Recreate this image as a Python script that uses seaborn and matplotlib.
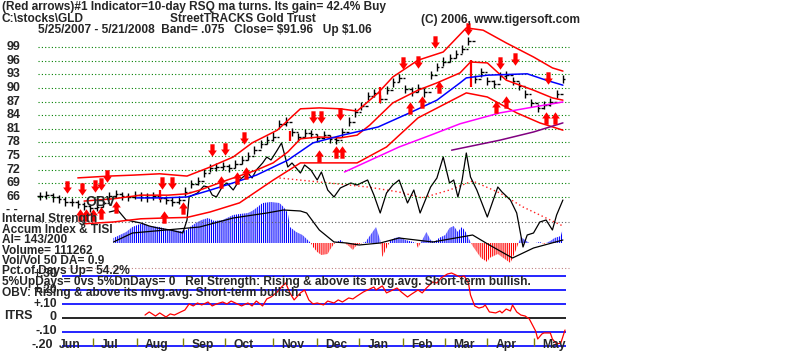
import numpy as np
import matplotlib
matplotlib.use("Agg")
import matplotlib.pyplot as plt
import seaborn as sns

sns.set_style("white")
plt.rcParams["font.family"] = ["Liberation Sans", "DejaVu Sans"]
plt.rcParams["hatch.linewidth"] = 0.8

# ---- data (x = trading day since 5/25/2007) ----
price_days = np.arange(0, 252, 3)
closes = [66.2, 66.4, 65.9, 65.5, 65.0, 64.9, 64.4, 64.0, 63.6, 63.9,
          64.6, 66.2, 66.7, 66.3, 66.0, 66.5, 66.1, 65.9, 66.3, 65.8,
          65.3, 65.0, 65.4, 67.2, 68.8, 69.6, 71.3, 72.3, 72.6, 72.8,
          72.4, 73.2, 74.1, 75.0, 76.3, 77.6, 78.5, 79.3, 82.0, 82.6,
          80.3, 79.2, 80.0, 79.8, 79.0, 79.6, 78.8, 78.6, 80.2, 82.6,
          84.6, 86.0, 88.3, 88.8, 87.6, 89.6, 91.2, 92.1, 89.7, 89.2,
          89.9, 89.0, 92.8, 94.6, 95.8, 96.6, 97.5, 98.5, 100.3, 92.0,
          93.4, 91.6, 90.8, 92.6, 92.9, 91.6, 90.4, 88.6, 86.6, 85.6,
          86.3, 86.9, 88.7, 91.9]

red_bar_days = [57, 119, 162, 205]
red_bar_low = [65.4, 78.3, 86.7, 90.2]
red_bar_high = [67.6, 80.5, 90.2, 96.1]

upper_days = [18, 33, 44, 57, 70, 80, 92, 101, 113, 124, 133, 143, 151, 161,
              168, 180, 192, 203, 211, 222, 235, 244, 249]
upper_band = [70.2, 70.6, 70.8, 71.1, 70.6, 72.4, 74.8, 77.9, 80.7, 85.4, 85.6,
              85.4, 84.9, 88.9, 92.4, 96.1, 97.9, 103.2, 102.7, 99.9, 96.8, 94.4,
              93.7]
ma21_days = [21, 35, 48, 61, 70, 76, 89, 103, 111, 118, 124, 133, 143, 151, 157,
             168, 180, 189, 200, 205, 213, 222, 235, 244, 249]
ma21 = [65.1, 65.6, 66.4, 66.4, 66.7, 67.5, 69.7, 71.9, 73.5, 75.9, 78.8, 79.2,
        79.0, 79.6, 81.8, 86.7, 89.5, 91.1, 93.3, 95.7, 95.5, 91.7, 89.5, 87.8,
        87.3]
lower_days = [21, 35, 48, 61, 70, 81, 95, 111, 124, 151, 165, 180, 203, 213, 227,
              238, 249]
lower_band = [60.1, 60.5, 61.2, 61.4, 61.5, 62.7, 64.7, 69.7, 73.5, 73.5, 77.0,
              83.4, 88.9, 88.0, 84.5, 82.3, 80.7]
ma50_days = [46, 59, 70, 81, 92, 103, 118, 130, 144, 161, 176, 189, 200, 203,
             213, 232, 241, 249]
ma50 = [65.8, 65.8, 66.0, 67.5, 69.1, 70.8, 74.1, 77.9, 79.6, 81.4, 84.5, 87.3,
        91.1, 92.2, 92.8, 93.1, 91.7, 90.6]
ma100_days = [145, 171, 186, 200, 219, 235, 249]
ma100 = [71.5, 77.0, 79.6, 82.1, 84.5, 85.8, 86.9]
ma200_days = [196, 219, 235, 249]
ma200 = [76.3, 78.5, 80.3, 82.3]

sell_days = [13, 20, 26, 29, 32, 58, 63, 82, 88, 97, 130, 134, 143, 173, 180,
             188, 204, 219, 226, 242]
sell_price = [68.2, 67.8, 68.4, 68.9, 70.6, 69.1, 69.1, 76.3, 76.6, 79.0, 83.6,
              83.6, 84.3, 95.5, 95.7, 100.1, 103.0, 95.5, 96.4, 92.2]
buy_days = [19, 22, 25, 29, 36, 59, 68, 86, 94, 98, 133, 141, 144, 176, 182, 190,
            217, 222, 241, 245]
buy_price = [62.0, 62.0, 62.0, 62.5, 63.8, 61.6, 63.6, 69.3, 70.2, 71.3, 75.0,
             75.9, 75.9, 85.6, 86.9, 90.2, 85.8, 86.9, 83.4, 83.4]

# on-balance volume and its average (scaled units)
obv_days = [33, 37, 41, 48, 52, 56, 62, 68, 70, 71, 75, 78, 80, 82, 84, 87, 89,
            92, 95, 99, 101, 103, 106, 108, 110, 113, 115, 118, 120, 124, 126,
            129, 132, 134, 137, 140, 143, 148, 151, 156, 159, 162, 165, 168, 171,
            175, 178, 181, 186, 189, 192, 195, 197, 199, 201, 203, 205, 208, 213,
            218, 220, 224, 227, 230, 232, 235, 238, 241, 244, 246, 249]
obv = [31, 33, 23, 20, 17, 15, 13, 10, 23, 46, 50, 57, 56, 48, 46, 57, 60, 53,
       63, 70, 65, 73, 80, 86, 83, 93, 100, 76, 80, 70, 78, 73, 63, 71, 53, 46,
       55, 60, 58, 63, 48, 30, 50, 58, 63, 40, 53, 30, 56, 65, 86, 60, 63, 46,
       63, 90, 66, 53, 26, 56, 51, 43, 30, -4, 8, 10, 21, 23, 13, 28, 43]
obv_ma_days = [114, 133, 156, 171, 182, 195, 206, 219, 230, 241, 249]
obv_ma = [65, 61, 56, 51, 45, 53, 62, 50, 36, 25, 17]

# accumulation index and its average
ai_days = [35, 38, 41, 44, 49, 52, 57, 60, 63, 67, 70, 72, 75, 77, 80, 83, 87,
           90, 92, 95, 99, 101, 103, 106, 110, 114, 116, 118, 119, 122, 125, 127,
           129, 130, 132, 134, 137, 138, 140, 143, 145, 147, 149, 150, 152, 155,
           157, 159, 160, 162, 163, 165, 167, 169, 171, 174, 176, 179, 180, 182,
           184, 186, 188, 190, 193, 195, 197, 199, 200, 201, 203, 205, 206, 208,
           210, 213, 214, 218, 220, 224, 225, 227, 229, 231, 233, 236, 238, 240,
           243, 245, 248, 249]
ai = [5, 8, 11, 16, 20, 17, 16, 14, 13, 12, 13, 17, 21, 23, 25, 22, 23, 26, 28,
      29, 30, 32, 35, 40, 41, 40, 36, 30, 16, 11, 8, 4, 0, -4, -9, -12, -11, -7,
      -1, 3, 0, -3, -7, -4, -1, 1, 7, 13, 16, 3, -14, -5, 3, 5, 6, 3, 2, 0, -5,
      3, 11, 3, 1, 5, 8, 15, 17, 11, 14, 16, 10, 1, -3, -9, -15, -19, -15, -11,
      -14, -20, -15, -5, 6, 3, 0, 0, 1, -1, 2, 5, 7, 15]
ai_ma_days = [35, 44, 60, 76, 92, 108, 116, 124, 127, 133, 140, 146, 152, 162,
              171, 187, 206, 214, 225, 235, 249]
ai_ma = [1, 10, 13, 16, 25, 30, 33, 32, 30, 13, 1, 0, -2, 0, 5, 1, 8, -2, -15,
         -5, 3]

# intermediate-term relative strength
itrs_days = [50, 52, 55, 57, 60, 62, 64, 67, 69, 71, 73, 75, 77, 80, 82, 84, 87,
             89, 91, 94, 96, 99, 101, 103, 106, 108, 110, 113, 115, 117, 119, 121,
             124, 126, 128, 130, 132, 135, 137, 140, 142, 144, 147, 149, 151, 154,
             156, 159, 160, 163, 165, 168, 170, 172, 175, 177, 180, 182, 184, 187,
             189, 191, 194, 196, 198, 200, 202, 204, 205, 207, 209, 211, 212, 214,
             217, 219, 220, 222, 224, 225, 227, 229, 231, 233, 236, 237, 239, 240,
             243, 244, 246, 248, 250]
itrs = [0.021, 0.043, 0.014, 0.036, 0.007, 0.029, 0.021, 0.043, 0.057, 0.100,
        0.086, 0.107, 0.093, 0.114, 0.086, 0.100, 0.114, 0.100, 0.121, 0.100,
        0.086, 0.107, 0.086, 0.121, 0.086, 0.136, 0.150, 0.186, 0.221, 0.250,
        0.179, 0.129, 0.179, 0.200, 0.129, 0.100, 0.107, 0.093, 0.121, 0.107,
        0.129, 0.114, 0.143, 0.136, 0.157, 0.186, 0.200, 0.221, 0.200, 0.229,
        0.179, 0.200, 0.214, 0.186, 0.150, 0.171, 0.200, 0.179, 0.214, 0.257,
        0.250, 0.286, 0.314, 0.321, 0.307, 0.293, 0.300, 0.250, 0.164, 0.086,
        0.071, 0.079, 0.093, 0.043, 0.036, 0.050, 0.036, 0.064, 0.050, 0.093,
        0.043, 0.021, 0.014, -0.007, -0.093, -0.150, -0.114, -0.107, -0.107,
        -0.150, -0.186, -0.179, -0.086]

price_levels = [99, 96, 93, 90, 87, 84, 81, 78, 75, 72, 69, 66]
itrs_levels = [0.3, 0.2, 0.1, -0.1, -0.2]
month_days = [5, 25, 46, 68, 88, 111, 132, 152, 173, 193, 213, 235]
month_names = ["Jun", "Jul", "Aug", "Sep", "Oct", "Nov", "Dec", "Jan", "Feb",
               "Mar", "Apr", "May"]

# ---- figure ----
fig = plt.figure(figsize=(8, 3.52), dpi=100)
fig.patch.set_facecolor("white")
XLIM = (-19.05, 361.9)


def overlay(ylim):
    ax = fig.add_axes([0, 0, 1, 1])
    ax.set_xlim(*XLIM)
    ax.set_ylim(*ylim)
    ax.set_axis_off()
    return ax


ax_i = overlay((-109, 243))
ax_r = overlay((-0.243, 2.271))
ax_p = overlay((31.89, 109.34))

# indicator panel
ai_arr = np.array(ai)
ax_i.hlines([21, -25], -1, 252, colors=["#606060", "#c08080"],
            linestyles=(0, (1, 2)), linewidth=0.8)
ax_i.fill_between(ai_days, 0, ai_arr, where=ai_arr >= 0, interpolate=True,
                  facecolor="none", edgecolor="#0000ff", hatch="|" * 8,
                  linewidth=0)
ax_i.fill_between(ai_days, 0, ai_arr, where=ai_arr <= 0, interpolate=True,
                  facecolor="none", edgecolor="#ff0000", hatch="|" * 8,
                  linewidth=0)
sns.lineplot(x=ai_ma_days, y=ai_ma, ax=ax_i, color="black", linewidth=0.9,
             sort=False, estimator=None)
sns.lineplot(x=obv_ma_days, y=obv_ma, ax=ax_i, color="#ff2020", linewidth=1.0,
             linestyle=(0, (1, 2)), sort=False, estimator=None)
sns.lineplot(x=obv_days, y=obv, ax=ax_i, color="black", linewidth=0.9,
             sort=False, estimator=None)

# ITRS panel
ax_r.hlines(itrs_levels, 10.5, 250.5, colors="#0000ff", linewidth=1.2)
ax_r.hlines([0], 10.5, 250.5, colors="black", linewidth=1.2)
sns.lineplot(x=itrs_days, y=itrs, ax=ax_r, color="#ff0000", linewidth=0.9,
             sort=False, estimator=None)
ax_r.vlines(month_days[1:], -0.2, -0.14, colors="#808000", linewidth=1.0)
for d, name in zip(month_days, month_names):
    ax_r.text(d + 4, -0.196, name, ha="left", va="center", fontsize=8.7,
              fontweight="bold")

# price panel
ax_p.hlines(price_levels, -1, 252, colors="#008000", linestyles=(0, (1, 2)),
            linewidth=0.8)
c = np.array(closes)
ax_p.vlines(price_days, c - 0.9, c + 0.9, colors="black", linewidth=1.0)
ax_p.hlines(c, price_days, price_days + 1.2, colors="black", linewidth=1.0)
ax_p.hlines(np.r_[c[0], c[:-1]], price_days - 1.2, price_days, colors="black",
            linewidth=1.0)
ax_p.vlines(red_bar_days, red_bar_low, red_bar_high, colors="#ff0000",
            linewidth=1.6)

for xs, ys, col in [(upper_days, upper_band, "#ff0000"),
                    (ma21_days, ma21, "#ff0000"),
                    (lower_days, lower_band, "#ff0000"),
                    (ma50_days, ma50, "#0000ff"),
                    (ma100_days, ma100, "#ff00ff"),
                    (ma200_days, ma200, "#800080")]:
    sns.lineplot(x=xs, y=ys, ax=ax_p, color=col, linewidth=1.1, sort=False,
                 estimator=None)

down_arrow = [(-0.17, 0.5), (0.17, 0.5), (0.17, 0.0), (0.35, 0.0), (0, -0.5),
              (-0.35, 0.0), (-0.17, 0.0), (-0.17, 0.5)]
up_arrow = [(x, -y) for x, y in down_arrow]
ax_p.scatter(sell_days, sell_price, marker=down_arrow, s=80, color="#ff0000",
             linewidths=0, zorder=5)
ax_p.scatter(buy_days, buy_price, marker=up_arrow, s=80, color="#ff0000",
             linewidths=0, zorder=5)

for lv in price_levels:
    ax_p.text(0.008, lv, str(lv), transform=ax_p.get_yaxis_transform(),
              ha="left", va="center", fontsize=9, fontweight="bold")


def ftext(x, y, s, **kw):
    kw.setdefault("fontsize", 8.6)
    kw.setdefault("fontweight", "bold")
    fig.text(x / 800, 1 - y / 352, s, ha="left", va="center", **kw)


ftext(2, 7, "(Red arrows)#1 Indicator=10-day RSQ ma turns. Its gain= 42.4% Buy")
ftext(2, 19, "C:\\stocks\\GLD")
ftext(170, 19, "StreetTRACKS Gold Trust")
ftext(421, 20, "(C) 2006, www.tigersoft.com")
ftext(38, 30, "5/25/2007 - 5/21/2008  Band= .075   Close= \\$91.96   Up \\$1.06")
ftext(6, 210, "- -", fontsize=9)
ftext(85, 202, "OBV", fontsize=10)
ftext(2, 219, "Internal Strength")
ftext(2, 230, "Accum Index & TISI")
ftext(2, 240, "AI= 143/200")
ftext(2, 251, "Volume= 111262")
ftext(2, 261, "Vol/Vol 50 DA= 0.9")
ftext(33, 274, "+.30")
ftext(2, 271, "Pct.of Days Up= 54.2%")
ftext(33, 290, "+.20")
ftext(2, 282, "5%UpDays= 0vs 5%DnDays= 0   Rel Strength: Rising & above its "
      "mvg.avg. Short-term bullish.")
ftext(2, 293, "OBV: Rising & above its mvg.avg. Short-term bullish.")
ftext(33, 304, "+.10")
ftext(4, 316, "ITRS", fontsize=9)
ftext(50, 317, "0", fontsize=9)
ftext(35, 331, "-.10", fontsize=9)
ftext(32, 345, "-.20", fontsize=9)

fig.savefig("out.png", dpi=100, facecolor="white")
